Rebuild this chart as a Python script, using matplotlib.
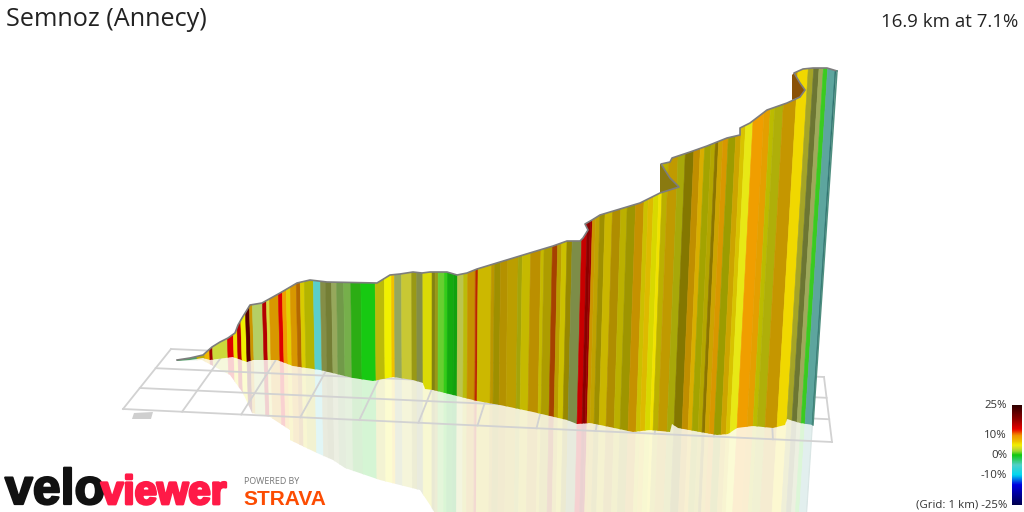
import numpy as np
import matplotlib
matplotlib.use("Agg")
import matplotlib.pyplot as plt
from matplotlib.colors import LinearSegmentedColormap
from matplotlib.patches import Polygon
from matplotlib import patheffects

title = "Semnoz (Annecy)"
summary = "16.9 km at 7.1%"
bar_ticks = [25, 10, 0, -10, -25]

# road profile (screen x, y)
top_line = [(177, 360), (190, 358), (203, 355), (212, 347), (220, 342), (228, 338), (235, 333), (238, 325),
            (242, 318), (250, 305), (262, 303), (280, 293), (297, 283), (310, 280), (327, 282), (377, 283),
            (390, 275), (400, 274), (413, 272), (422, 273), (430, 272), (447, 272), (457, 275), (467, 273),
            (477, 269), (500, 262), (533, 252), (553, 246), (567, 241), (580, 241), (583, 238), (588, 230),
            (585, 224), (592, 220), (600, 215), (640, 203), (660, 193), (679, 187), (670, 178), (668, 175),
            (661, 164), (670, 162), (672, 158), (690, 152), (707, 146), (727, 138), (740, 135), (740, 128),
            (750, 123), (767, 110), (787, 103), (800, 97), (805, 90), (800, 83), (794, 73), (803, 69),
            (813, 68), (827, 68), (837, 71)]
base_line = [(177, 361), (190, 360), (203, 358), (210, 360), (233, 357), (247, 362), (253, 360), (277, 360),
             (293, 366), (320, 370), (353, 378), (373, 381), (393, 377), (413, 380), (423, 383), (425, 389),
             (433, 390), (453, 395), (477, 401), (500, 405), (533, 412), (567, 420), (577, 424), (590, 423),
             (600, 425), (633, 432), (650, 430), (670, 432), (672, 424), (678, 428), (700, 432), (717, 435),
             (728, 434), (737, 428), (753, 426), (773, 428), (785, 425), (787, 419), (800, 423), (813, 425)]
shadow_line = [(202, 360), (230, 375), (243, 393), (252, 413), (270, 417), (290, 430), (290, 440), (317, 453),
               (333, 460), (345, 468), (380, 480), (420, 490), (430, 505), (436, 515), (807, 515)]
fold_one = [(661, 164), (668, 175), (670, 178), (679, 187), (660, 193), (660, 164)]
fold_two = [(794, 73), (800, 83), (805, 90), (800, 97), (792, 100), (792, 75)]

# stripes along the road: edges, gradient %, lighting and washed-out amount
edges = [177, 197, 205, 210, 213, 228, 234, 238, 242, 247, 251, 254, 264, 268, 271, 280, 284, 288, 292, 298, 302,
         306, 315, 322, 327, 333, 338, 345, 352, 362, 376, 385, 392, 395, 402, 412, 417, 423, 432, 435, 438, 444,
         447, 453, 457, 463, 467, 474, 475, 477, 490, 493, 499, 506, 516, 520, 528, 538, 541, 549, 554, 558, 563,
         568, 577, 582, 585, 587, 590, 594, 599, 606, 614, 620, 628, 636, 640, 645, 650, 653, 658, 667, 674, 682,
         688, 692, 698, 702, 705, 709, 714, 721, 726, 730, 737, 747, 753, 757, 765, 777, 787, 792, 797, 801, 805,
         812, 813]
grades = [-2, 6, 7.5, 17, 3.5, 13.5, 5.5, 16, 5, 22, 8, 2.5, 16, 4, 8.5, 13.5, 9, 6, 8.5, 10,
          5.5, 5, -6, 3, 3, 2.5, 1.5, 1.2, 0.5, 0, 4.5, 5, 7, 2.5, 4, 4, 3, 4.8, 4, 4, 1,
          0.5, 0, 0, 3.5, 4.5, 8, 10, 12, 6, 7, 6, 7, 6.5, 4.5, 5.5, 7.5, 5.5, 6, 11, 6.5, 5.5,
          6, 2.5, 13.5, 15, 15, 8, 6.5, 6, 6, 7, 5.5, 5.5, 8, 5.5, 6.5, 5, 5.5, 5.5, 7, 4.5, 6,
          8, 7, 5, 5.8, 6.5, 7, 8.5, 5, 7, 6, 4.5, 9, 8.5, 5, 4.5, 7.5, 6, 4, 3, 3, 0.5,
          -5, -5]
lights = [0.7, 0.8, 1, 1, 1, 1, 1, 1, 1, 1, 0.85, 1, 1, 1, 0.9, 1, 1, 0.95, 0.9, 0.75,
          0.9, 0.75, 1, 0.55, 0.5, 0.7, 0.65, 0.8, 0.85, 1, 0.8, 1, 1, 0.7, 0.9, 0.68, 0.55, 0.92, 0.58, 0.68, 1,
          1, 0.85, 0.8, 0.9, 0.8, 0.82, 0.8, 0.8, 0.85, 0.78, 0.66, 0.75, 0.78, 0.7, 0.82, 0.78, 0.82, 0.72, 0.7, 0.78, 0.85,
          0.63, 0.55, 0.9, 0.7, 0.8, 0.85, 0.8, 0.66, 0.84, 0.73, 0.78, 0.66, 0.82, 0.85, 0.92, 0.9, 1, 0.78, 0.8, 0.72, 0.55,
          0.8, 0.9, 0.68, 0.75, 0.58, 0.85, 0.9, 0.65, 0.85, 0.9, 1, 1, 0.95, 0.78, 0.75, 0.82, 1, 0.72, 0.45, 0.7, 1,
          0.75, 0.55]
mutes = [0.3, 0, 0, 0, 0.15, 0, 0, 0, 0, 0, 0, 0.4, 0, 0.2, 0, 0, 0, 0, 0, 0,
         0, 0, 0.2, 0.3, 0.2, 0.4, 0.3, 0.3, 0, 0, 0, 0, 0, 0.4, 0.15, 0, 0.3, 0, 0, 0, 0.1,
         0, 0, 0, 0.3, 0, 0, 0, 0, 0, 0, 0, 0, 0, 0, 0, 0, 0, 0, 0, 0, 0,
         0, 0.3, 0, 0, 0, 0, 0, 0, 0, 0, 0, 0, 0, 0, 0, 0, 0, 0, 0, 0, 0,
         0, 0, 0, 0, 0, 0, 0, 0, 0, 0, 0.05, 0, 0, 0, 0, 0, 0, 0.1, 0.2, 0.4, 0.05,
         0.25, 0]

grid_corners = [(123, 409), (832, 442), (824, 377), (171, 349)]
grid_columns = 12
grid_rows = [0, 0.35, 0.68, 1]

cmap_stops = [(-25, "#000050"), (-15, "#0000e0"), (-10, "#00d8f0"), (-5, "#50d0c8"), (0, "#10c810"),
              (2, "#a0d830"), (4, "#e0e020"), (5, "#f0f000"), (7, "#f0c000"), (10, "#f09000"),
              (13, "#e80000"), (18, "#900000"), (25, "#300000")]
grade_map = LinearSegmentedColormap.from_list("grade", [((g + 25) / 50, c) for g, c in cmap_stops])


def stripe_colour(i):
    rgb = np.array(grade_map((grades[i] + 25) / 50)[:3])
    rgb = rgb * lights[i]
    return rgb * (1 - mutes[i]) + np.array([0.75, 0.75, 0.72]) * mutes[i]


def lean_x(b, y):
    # uprights converge on a point below the picture
    base_y = np.interp(b, [p[0] for p in base_line], [p[1] for p in base_line])
    return b + (base_y - y) * (b - 430) * 1.7e-4


fig = plt.figure(figsize=(10.24, 5.12), dpi=100)
ax = fig.add_axes([0, 0, 1, 1])
ax.set_xlim(0, 1024)
ax.set_ylim(512, 0)
ax.axis("off")

# the wall's reflection on the ground
shadow_clip = Polygon(base_line + shadow_line[::-1], closed=True, fill=False, lw=0, transform=ax.transData)
ax.add_patch(shadow_clip)
for i in range(len(grades)):
    c = stripe_colour(i) * 0.18 + 0.82
    ys = [50, 50, 520, 520]
    xs = [lean_x(edges[i], 50), lean_x(edges[i + 1], 50), lean_x(edges[i + 1], 520), lean_x(edges[i], 520)]
    p = ax.fill(xs, ys, color=c, lw=0.4, zorder=1)[0]
    p.set_clip_path(shadow_clip)

# ground grid
fl, fr, br, bl = [np.array(c, float) for c in grid_corners]
for f in grid_rows:
    a, b = fl + (bl - fl) * f, fr + (br - fr) * f
    ax.plot([a[0], b[0]], [a[1], b[1]], color="#d2d2d2", lw=1.3, zorder=2)
for k in range(grid_columns + 1):
    a, b = fl + (fr - fl) * k / grid_columns, bl + (br - bl) * k / grid_columns
    ax.plot([a[0], b[0]], [a[1], b[1]], color="#d2d2d2", lw=1.3, zorder=2)
ax.add_patch(Polygon([(134, 413), (153, 412), (151, 419), (132, 419)], closed=True, color="#cfcfcf", lw=0, zorder=2))

# folded-back bits of road behind the wall
ax.add_patch(Polygon(fold_one, closed=True, color="#8a7a10", lw=0, zorder=3))
ax.add_patch(Polygon(fold_two, closed=True, color="#8a5208", lw=0, zorder=3))

# the wall
wall_clip = Polygon(top_line + base_line[::-1], closed=True, fill=False, lw=0, transform=ax.transData)
ax.add_patch(wall_clip)
for i in range(len(grades)):
    ys = [50, 50, 520, 520]
    xs = [lean_x(edges[i], 50), lean_x(edges[i + 1], 50), lean_x(edges[i + 1], 520), lean_x(edges[i], 520)]
    p = ax.fill(xs, ys, color=stripe_colour(i), lw=0.4, zorder=4)[0]
    p.set_clip_path(wall_clip)
tx, ty = zip(*top_line)
ax.plot(tx, ty, color="#7d7d7d", lw=1.2, zorder=5, solid_joinstyle="round")
ax.plot([837, 813], [71, 425], color="#4f8f80", lw=1.1, zorder=5)

# colour bar
ramp = np.linspace(1, 0, 200).reshape(-1, 1)
ax.imshow(ramp, cmap=grade_map, vmin=0, vmax=1, extent=(1012, 1022, 505, 405), aspect="auto", zorder=3)
ax.set_xlim(0, 1024)
ax.set_ylim(512, 0)
for t in bar_ticks:
    label = f"{t}%"
    if t == -25:
        label = "(Grid: 1 km) -25%"
    ax.text(1007, 455 - t * 2, label, ha="right", va="center", fontsize=8.2, color="#333333", family="Open Sans")

ax.text(6, 19, title, ha="left", va="center", fontsize=18.2, color="#222222", family="Open Sans")
ax.text(1018, 22, summary, ha="right", va="center", fontsize=13.4, color="#222222", family="Open Sans")

# logos
heavy = [patheffects.withStroke(linewidth=1.6, foreground="#111111")]
ax.text(5, 504, "velo", ha="left", va="baseline", fontsize=36, fontweight="bold", color="#111111",
        family="Liberation Sans", path_effects=heavy)
heavy = [patheffects.withStroke(linewidth=2.0, foreground="#ff1a47")]
ax.text(101, 504, "viewer", ha="left", va="baseline", fontsize=29, fontweight="bold", color="#ff1a47",
        family="Liberation Sans", path_effects=heavy)
ax.text(244, 481, "POWERED BY", ha="left", va="center", fontsize=6.4, color="#777777", family="Open Sans")
ax.text(243, 505, "STRAVA", ha="left", va="baseline", fontsize=15, fontweight="bold", color="#fc4c02",
        family="Liberation Sans")

fig.savefig("out.png", dpi=100)
